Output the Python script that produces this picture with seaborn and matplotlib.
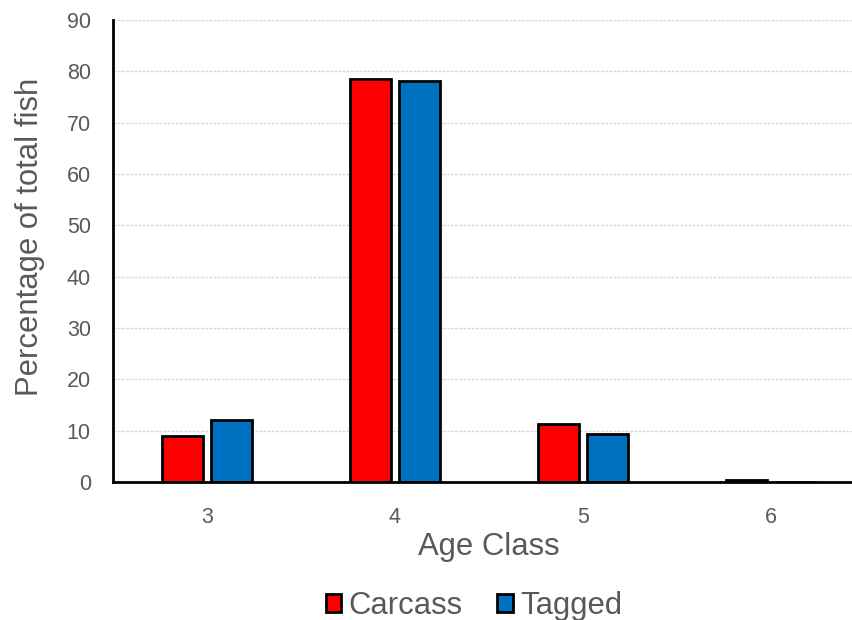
import matplotlib
matplotlib.use("Agg")
import matplotlib.pyplot as plt
import seaborn as sns
import pandas as pd

age_classes = ["3", "4", "5", "6"]
carcass = [9.0, 78.6, 11.3, 0.3]
tagged = [12.1, 78.2, 9.3, 0.0]
series_names = ["Carcass", "Tagged"]
colors = ["#FF0000", "#0070C0"]

df = pd.DataFrame({
    "Age Class": age_classes * 2,
    "Percentage": carcass + tagged,
    "Group": [series_names[0]] * len(age_classes) + [series_names[1]] * len(age_classes),
})

sns.set_theme(style="white")
plt.rcParams["font.family"] = ["Liberation Sans", "DejaVu Sans"]

fig = plt.figure(figsize=(8.53, 6.2), dpi=100)
ax = fig.add_axes([113 / 853, 1 - 482 / 620, 752 / 853, 462 / 620])

sns.barplot(data=df, x="Age Class", y="Percentage", hue="Group",
            palette=colors, saturation=1, width=0.52, gap=0.15,
            edgecolor="black", linewidth=2, ax=ax, legend=True)

ax.set_ylim(0, 90)
ax.set_xlim(-0.5, 3.5)
ax.set_yticks(range(0, 91, 10))
ax.yaxis.grid(True, color="#d9d9d9", linestyle=(0, (2, 1)), linewidth=1)
ax.set_axisbelow(True)
for side in ["top", "right"]:
    ax.spines[side].set_visible(False)
for side in ["left", "bottom"]:
    ax.spines[side].set_color("black")
    ax.spines[side].set_linewidth(2)
ax.tick_params(axis="both", length=0, labelsize=15.5, labelcolor="#595959")
ax.tick_params(axis="y", pad=16)
ax.tick_params(axis="x", pad=18)
ax.set_xlabel("Age Class", fontsize=22.3, color="#595959", labelpad=3)
ax.set_ylabel("Percentage of total fish", fontsize=22.3, color="#595959")
ax.yaxis.set_label_coords(-0.09, 0.530)

handles, labels = ax.get_legend_handles_labels()
ax.legend(handles, labels, loc="center", bbox_to_anchor=((474 - 113) / 752, -(606 - 482) / 462),
          ncol=2, frameon=False, fontsize=22.3, labelcolor="#595959",
          handlelength=0.5, handleheight=0.5, handletextpad=0.25, columnspacing=1.1)

fig.savefig("out.png", dpi=100, facecolor="white")
